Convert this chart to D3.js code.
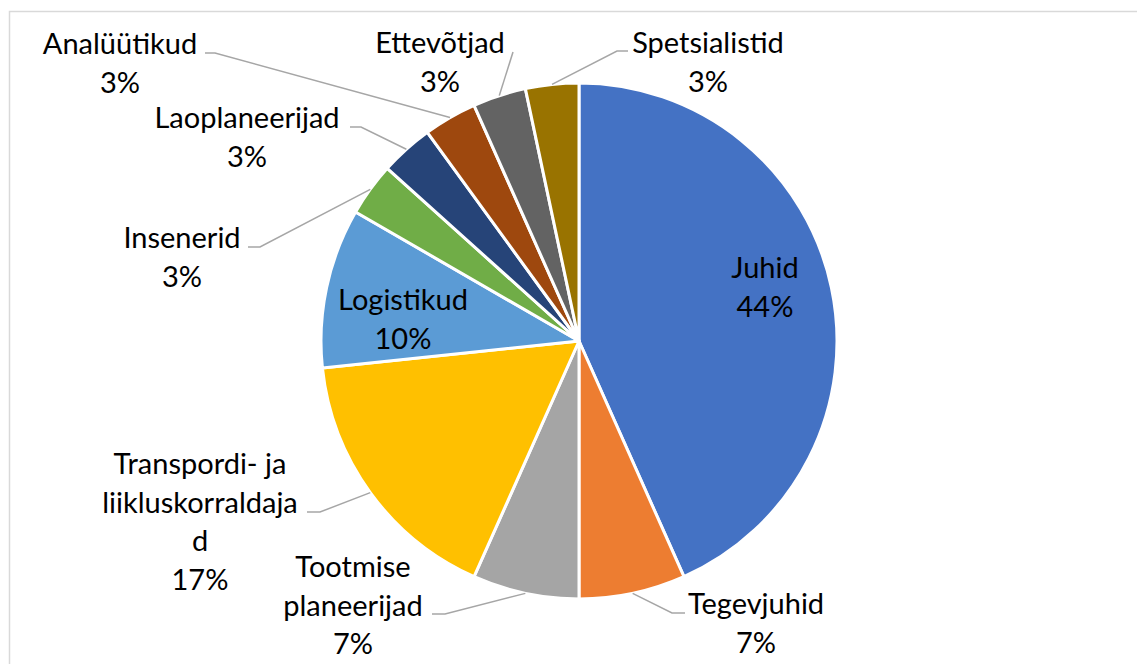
<!DOCTYPE html>
<html>
<head>
<meta charset="utf-8">
<script src="https://cdn.jsdelivr.net/npm/d3@7"></script>
<style>
  body { margin: 0; background: #fff; }
  text { font-family: Lato, "Noto Sans", sans-serif; font-size: 29px; fill: #000; }
</style>
</head>
<body>
<script>
var w = 1137;
var h = 664;

// chart data (slices go clockwise from 12 o'clock)
var categories = ["Juhid", "Tegevjuhid", "Tootmise planeerijad", "Transpordi- ja liikluskorraldajad",
  "Logistikud", "Insenerid", "Laoplaneerijad", "Analüütikud", "Ettevõtjad", "Spetsialistid"];
var counts = [13, 2, 2, 5, 3, 1, 1, 1, 1, 1];
var pctLabels = ["44%", "7%", "7%", "17%", "10%", "3%", "3%", "3%", "3%", "3%"];
// label text broken into lines as shown
var labelLines = [["Juhid"], ["Tegevjuhid"], ["Tootmise", "planeerijad"], ["Transpordi- ja", "liikluskorraldaja", "d"],
  ["Logistikud"], ["Insenerid"], ["Laoplaneerijad"], ["Analüütikud"], ["Ettevõtjad"], ["Spetsialistid"]];
var colors = ["#4472C4", "#ED7D31", "#A5A5A5", "#FFC000", "#5B9BD5", "#70AD47", "#264478", "#9E480E", "#636363", "#997300"];

var cx = 579, cy = 341, r = 258;
var lineH = 38.5;

// where each label block sits (center x, baseline of first line) and the leader elbow/end
var layout = [
  { x: 765, y: 278, inside: true },
  { x: 756, y: 614, elbow: [672, 613], end: [685, 613] },
  { x: 353, y: 577, elbow: [445, 614], end: [432, 614] },
  { x: 200, y: 474, elbow: [320, 512], end: [307, 512] },
  { x: 403, y: 310, inside: true },
  { x: 182, y: 248, elbow: [260, 247], end: [248, 247] },
  { x: 247, y: 128, elbow: [361, 127], end: [350, 127] },
  { x: 120, y: 54, elbow: [215, 53], end: [205, 53] },
  { x: 440, y: 53, elbow: [513, 52], end: [513, 52] },
  { x: 708, y: 53, elbow: [617, 51], end: [628, 51] }
];

var svg = d3.select("body").append("svg").attr("width", w).attr("height", h);

// chart area border
svg.append("rect")
  .attr("x", 9.5).attr("y", 11.5)
  .attr("width", w + 20).attr("height", h + 20)
  .attr("fill", "none")
  .attr("stroke", "#D9D9D9")
  .attr("stroke-width", 1.5);

var data = categories.map(function(c, i) { return { name: c, value: counts[i], i: i }; });

var pie = d3.pie().sort(null).value(function(d) { return d.value; });
var arcs = pie(data);
var arc = d3.arc().innerRadius(0).outerRadius(r);

var g = svg.append("g").attr("transform", "translate(" + cx + "," + cy + ")");

g.selectAll("path.slice")
  .data(arcs)
  .enter().append("path")
  .attr("class", "slice")
  .attr("d", arc)
  .attr("fill", function(d) { return colors[d.data.i]; })
  .attr("stroke", "#fff")
  .attr("stroke-width", 3)
  .attr("stroke-linejoin", "round");

// leader lines from the slice rim to the label
var leaders = arcs.filter(function(d) { return !layout[d.data.i].inside; });
svg.selectAll("polyline.leader")
  .data(leaders)
  .enter().append("polyline")
  .attr("class", "leader")
  .attr("fill", "none")
  .attr("stroke", "#A6A6A6")
  .attr("stroke-width", 1.5)
  .attr("points", function(d) {
    var a = (d.startAngle + d.endAngle) / 2;
    var sx = cx + r * Math.sin(a), sy = cy - r * Math.cos(a);
    var L = layout[d.data.i];
    return [[sx, sy], L.elbow, L.end].map(function(p) { return p.join(","); }).join(" ");
  });

// labels
var labels = svg.selectAll("text.lbl")
  .data(arcs)
  .enter().append("text")
  .attr("class", "lbl")
  .attr("text-anchor", "middle");

labels.each(function(d) {
  var L = layout[d.data.i];
  var lines = labelLines[d.data.i].concat([pctLabels[d.data.i]]);
  var t = d3.select(this);
  lines.forEach(function(s, k) {
    t.append("tspan").attr("x", L.x).attr("y", L.y + k * lineH).text(s);
  });
});
</script>
</body>
</html>
